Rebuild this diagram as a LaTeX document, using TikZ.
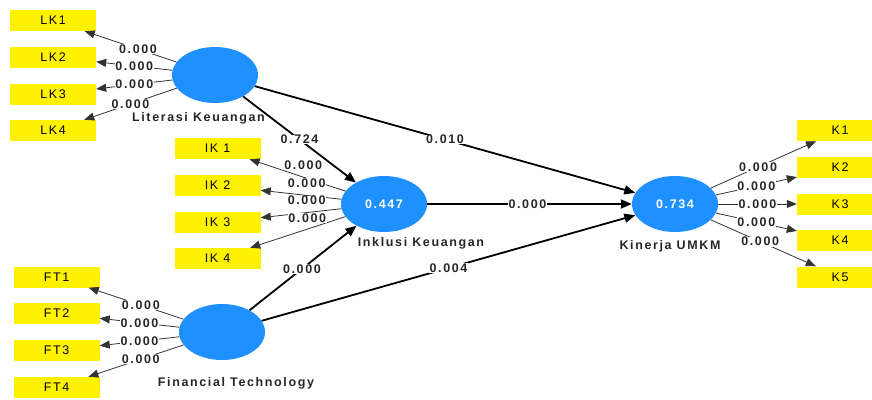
\documentclass[tikz,border=0pt]{standalone}
\usepackage{fontspec}
\setmainfont{Liberation Sans}
\newfontfamily\lblfont{Liberation Sans}[LetterSpace=13]
\usetikzlibrary{shapes.geometric,arrows.meta}
\definecolor{lvblue}{RGB}{30,144,255}
\begin{document}
\begin{tikzpicture}[x=1pt,y=-1pt,
  lv/.style={ellipse, fill=lvblue, minimum width=86pt, minimum height=56pt, inner sep=0pt, text=white, font={\lblfont\fontsize{12.5}{14}\selectfont\bfseries}},
  ind/.style={rectangle, fill=yellow, minimum width=86pt, minimum height=21pt, inner sep=0pt, font={\lblfont\fontsize{12.5}{14}\selectfont}},
  outerp/.style={draw=black!80, line width=0.8pt, -{Triangle[length=10pt,width=8pt]}},
  innerp/.style={draw=black, line width=1.8pt, -{Triangle[length=11pt,width=9pt]}},
  lbl/.style={fill=white, inner sep=0.5pt, text=black!85, font={\lblfont\fontsize{12.5}{14}\selectfont\bfseries}},
  lvname/.style={text=black!85, inner sep=0pt, font={\lblfont\fontsize{12.5}{14}\selectfont\bfseries}}]
\useasboundingbox (0,0) rectangle (872,399);

% latent variables
\node[lv] (LK) at (215,75) {};
\node[lv] (IK) at (384,204) {0.447};
\node[lv] (KU) at (675,204) {0.734};
\node[lv] (FT) at (222,332) {};

\node[lvname] (LKn) at (198.5,118) {Literasi Keuangan};
\node[lvname] (IKn) at (421,243) {Inklusi Keuangan};
\node[lvname] (KUn) at (670,246) {Kinerja UMKM};
\node[lvname] (FTn) at (236,383) {Financial Technology};

% indicators
\node[ind] (LK1) at (53,20.5) {LK1};
\node[ind] (LK2) at (53,57) {LK2};
\node[ind] (LK3) at (53,94) {LK3};
\node[ind] (LK4) at (53,130.5) {LK4};

\node[ind] (IK1) at (217.5,148.5) {IK 1};
\node[ind] (IK2) at (217.5,185.5) {IK 2};
\node[ind] (IK3) at (217.5,222.5) {IK 3};
\node[ind] (IK4) at (217.5,258.5) {IK 4};

\node[ind] (K1) at (840,130.5) {K1};
\node[ind] (K2) at (840,167.5) {K2};
\node[ind] (K3) at (840,204) {K3};
\node[ind] (K4) at (840,240.5) {K4};
\node[ind] (K5) at (840,277) {K5};

\node[ind] (FT1) at (56.5,277) {FT1};
\node[ind] (FT2) at (56.5,313.5) {FT2};
\node[ind] (FT3) at (56.5,350.5) {FT3};
\node[ind] (FT4) at (56.5,387.5) {FT4};

% outer model
\draw[outerp] (LK) -- node[lbl,pos=.42]{0.000} (LK1);
\draw[outerp] (LK) -- node[lbl,pos=.5]{0.000} (LK2);
\draw[outerp] (LK) -- node[lbl,pos=.5]{0.000} (LK3);
\draw[outerp] (LK) -- node[lbl,pos=.5]{0.000} (LK4);

\draw[outerp] (IK) -- node[lbl,pos=.44,yshift=12pt]{0.000} (IK1);
\draw[outerp] (IK) -- node[lbl,pos=.43,yshift=12pt]{0.000} (IK2);
\draw[outerp] (IK) -- node[lbl,pos=.43,yshift=12pt]{0.000} (IK3);
\draw[outerp] (IK) -- node[lbl,pos=.40,yshift=11pt]{0.000} (IK4);

\draw[outerp] (KU) -- node[lbl,pos=.45]{0.000} (K1);
\draw[outerp] (KU) -- node[lbl,pos=.5]{0.000} (K2);
\draw[outerp] (KU) -- node[lbl,pos=.5]{0.000} (K3);
\draw[outerp] (KU) -- node[lbl,pos=.5]{0.000} (K4);
\draw[outerp] (KU) -- node[lbl,pos=.47]{0.000} (K5);

\draw[outerp] (FT) -- node[lbl,pos=.45]{0.000} (FT1);
\draw[outerp] (FT) -- node[lbl,pos=.5]{0.000} (FT2);
\draw[outerp] (FT) -- node[lbl,pos=.5]{0.000} (FT3);
\draw[outerp] (FT) -- node[lbl,pos=.45]{0.000} (FT4);

% inner model
\draw[innerp] (LK) -- node[lbl,pos=.5]{0.724} (IK);
\draw[innerp] (LK) -- node[lbl,pos=.5]{0.010} (KU);
\draw[innerp] (IK) -- node[lbl,pos=.49]{0.000} (KU);
\draw[innerp] (FT) -- node[lbl,pos=.49]{0.000} (IK);
\draw[innerp] (FT) -- node[lbl,pos=.5]{0.004} (KU);
\end{tikzpicture}
\end{document}
